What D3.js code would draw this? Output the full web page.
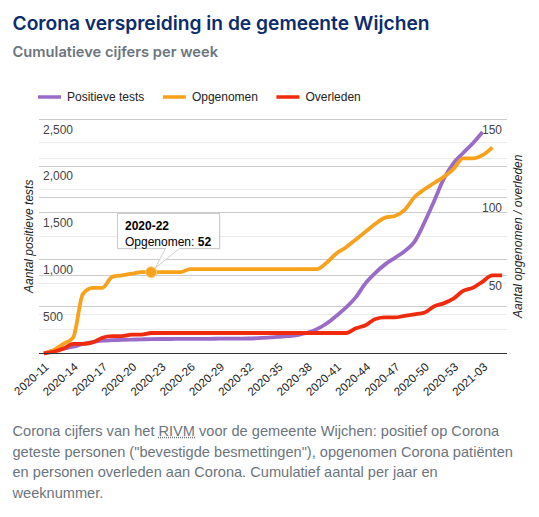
<!DOCTYPE html>
<html>
<head>
<meta charset="utf-8">
<script src="https://cdn.jsdelivr.net/npm/d3@7"></script>
<style>
  html, body { margin: 0; padding: 0; background: #fff; }
  #wrap { position: relative; width: 539px; height: 517px; overflow: hidden; }
  #chart { position: absolute; left: 0; top: 0; }
  #caption {
    position: absolute; left: 12.5px; top: 421px; width: 504px;
    font-family: "Liberation Sans", Arial, sans-serif; font-size: 14.6px;
    line-height: 20.7px; color: #6c757d;
  }
  #caption abbr { text-decoration: underline dotted; }
</style>
</head>
<body>
<div id="wrap">
  <svg id="chart" width="539" height="420"></svg>
  <div id="caption">Corona cijfers van het <abbr title="Rijksinstituut voor Volksgezondheid en Milieu">RIVM</abbr> voor de gemeente Wijchen: positief op Corona geteste personen ("bevestigde besmettingen"), opgenomen Corona patiënten en personen overleden aan Corona. Cumulatief aantal per jaar en weeknummer.</div>
</div>
<script>
/* ─────────── Data: weken + cumulatieve reeksen ─────────── */
const WEEKS = [
  '2020-11','2020-12','2020-13','2020-14','2020-15','2020-16','2020-17','2020-18',
  '2020-19','2020-20','2020-21','2020-22','2020-23','2020-24','2020-25','2020-26',
  '2020-27','2020-28','2020-29','2020-30','2020-31','2020-32','2020-33','2020-34',
  '2020-35','2020-36','2020-37','2020-38','2020-39','2020-40','2020-41','2020-42',
  '2020-43','2020-44','2020-45','2020-46','2020-47','2020-48','2020-49','2020-50',
  '2020-51','2020-52','2020-53','2021-01','2021-02','2021-03','2021-04','2021-05'
];

// linker as
const POSITIEF = [
  0, 30, 50, 70, 100, 120, 135, 140, 143, 146, 149, 152,
  153, 153, 154, 154, 155, 155, 156, 156, 157, 158, 162, 168,
  175, 183, 195, 220, 258, 318, 400, 490, 600, 750, 860, 950,
  1020, 1090, 1190, 1390, 1620, 1860, 2030, 2140, 2245, 2365, null, null
];

// rechter as
const OPGENOMEN = [
  0, 2, 6, 10, 38, 42, 42, 49, 50, 51, 52, 52,
  52, 52, 52, 54, 54, 54, 54, 54, 54, 54, 54, 54,
  54, 54, 54, 54, 54, 58, 64, 68, 73, 78, 83, 87,
  88, 92, 100, 105, 109, 113, 118, 125, 125, 127, 132, null
];

const OVERLEDEN = [
  0, 1, 3, 6, 6, 7, 10, 11, 11, 12, 12, 13,
  13, 13, 13, 13, 13, 13, 13, 13, 13, 13, 13, 13,
  13, 13, 13, 13, 13, 13, 13, 13, 16, 18, 22, 23,
  23, 24, 25, 26, 30, 32, 35, 40, 42, 46, 50, 50
];

const LEFT_TICKS  = [500, 1000, 1500, 2000, 2500];
const LEFT_MINOR  = [250, 750, 1250, 1750, 2250];
const RIGHT_TICKS = [50, 100, 150];
const RIGHT_MINOR = [25, 75, 125];

const SERIES = [
  { name: 'Positieve tests', values: POSITIEF,  axis: 'L', color: '#9a6cc8' },
  { name: 'Opgenomen',       values: OPGENOMEN, axis: 'R', color: '#f8a11b' },
  { name: 'Overleden',       values: OVERLEDEN, axis: 'R', color: '#f02a0c' }
];

const TIP = { week: '2020-22', series: 'Opgenomen' };

/* ─────────── Layout ─────────── */
const FONT = 'Arial, "Liberation Sans", sans-serif';
const PL = 39, PR = 507, PT = 119.3, PB = 353.3;

const svg = d3.select('#chart');

/* Titel */
svg.append('text')
  .attr('x', 12.5).attr('y', 30)
  .attr('font-family', 'Inter, "Noto Sans", sans-serif')
  .attr('font-size', 19.2).attr('font-weight', 600)
  .attr('fill', '#0b2d6b')
  .text('Corona verspreiding in de gemeente Wijchen');

svg.append('text')
  .attr('x', 12.5).attr('y', 56.5)
  .attr('font-family', 'Inter, "Noto Sans", sans-serif')
  .attr('font-size', 14.7).attr('font-weight', 600)
  .attr('fill', '#6c757d')
  .text('Cumulatieve cijfers per week');

/* Schalen */
const x = d3.scalePoint().domain(WEEKS).range([PL, PR]).padding(0.5);
const yL = d3.scaleLinear().domain([0, 2500]).range([PB, PT]);
const yR = d3.scaleLinear().domain([0, 150]).range([PB, PT]);

/* Gridlijnen */
const grid = svg.append('g').attr('shape-rendering', 'crispEdges');
function gridLines(vals, scale, color) {
  grid.append('g').selectAll('line').data(vals).join('line')
    .attr('x1', PL).attr('x2', PR)
    .attr('y1', d => scale(d)).attr('y2', d => scale(d))
    .attr('stroke', color);
}
gridLines(LEFT_MINOR, yL, '#ebebeb');
gridLines(RIGHT_MINOR, yR, '#ebebeb');
gridLines(LEFT_TICKS, yL, '#cccccc');
gridLines(RIGHT_TICKS, yR, '#cccccc');

/* As-labels */
svg.append('g').selectAll('text').data(LEFT_TICKS).join('text')
  .attr('x', 43).attr('y', d => yL(d) + 10).attr('dy', '0.35em')
  .attr('font-family', FONT).attr('font-size', 12).attr('fill', '#444')
  .text(d => d3.format(',')(d));

svg.append('g').selectAll('text').data(RIGHT_TICKS).join('text')
  .attr('x', 502).attr('y', d => yR(d) + 10).attr('dy', '0.35em')
  .attr('text-anchor', 'end')
  .attr('font-family', FONT).attr('font-size', 12).attr('fill', '#444')
  .text(d => d);

svg.append('text')
  .attr('transform', `translate(29,${(PT + PB) / 2}) rotate(-90)`)
  .attr('text-anchor', 'middle').attr('dy', '0.35em')
  .attr('font-family', FONT).attr('font-size', 12).attr('font-style', 'italic')
  .attr('fill', '#222')
  .text('Aantal positieve tests');

svg.append('text')
  .attr('transform', `translate(518,${(PT + PB) / 2}) rotate(-90)`)
  .attr('text-anchor', 'middle').attr('dy', '0.35em')
  .attr('font-family', FONT).attr('font-size', 12).attr('font-style', 'italic')
  .attr('fill', '#222')
  .text('Aantal opgenomen / overleden');

/* x-as labels (elke 3e week) */
svg.append('g').selectAll('text')
  .data(WEEKS.filter((_, i) => i % 3 === 0))
  .join('text')
    .attr('transform', d => `translate(${x(d) + 3},365) rotate(-42)`)
    .attr('text-anchor', 'end').attr('dy', '0.35em')
    .attr('font-family', FONT).attr('font-size', 11.6).attr('fill', '#222')
    .text(d => d);

/* Lijnen */
const lines = svg.append('g').attr('fill', 'none');
SERIES.forEach(s => {
  const y = s.axis === 'L' ? yL : yR;
  const line = d3.line()
    .defined(d => d != null)
    .x((_, i) => x(WEEKS[i]))
    .y(d => y(d))
    .curve(d3.curveMonotoneX);
  lines.append('path')
    .attr('d', line(s.values))
    .attr('stroke', s.color)
    .attr('stroke-width', 3.8)
    .attr('stroke-linejoin', 'round');
});

/* Basislijn */
svg.append('line')
  .attr('x1', PL).attr('x2', PR).attr('y1', PB).attr('y2', PB)
  .attr('stroke', '#333').attr('shape-rendering', 'crispEdges');

/* Legenda */
const leg = svg.append('g').attr('transform', 'translate(38,97)');
let lx = 0;
SERIES.forEach(s => {
  leg.append('line')
    .attr('x1', lx).attr('x2', lx + 23).attr('y1', 0).attr('y2', 0)
    .attr('stroke', s.color).attr('stroke-width', 3.5);
  const t = leg.append('text')
    .attr('x', lx + 29).attr('y', 0).attr('dy', '0.35em')
    .attr('font-family', FONT).attr('font-size', 12).attr('fill', '#222')
    .text(s.name);
  lx += 29 + t.node().getComputedTextLength() + 18.5;
});

/* Tooltip 2020-22 */
const ts = SERIES.find(s => s.name === TIP.series);
const ti = WEEKS.indexOf(TIP.week);
const tx = x(TIP.week), ty = yR(ts.values[ti]);

svg.append('circle')
  .attr('cx', tx).attr('cy', ty).attr('r', 5.5)
  .attr('fill', ts.color).attr('stroke', '#fbd08a').attr('stroke-width', 1);

const tip = svg.append('g');
const bx = 117.5, by = 213.5, bw = 102, bh = 35;
tip.append('rect')
  .attr('x', bx + 1).attr('y', by + 1).attr('width', bw).attr('height', bh)
  .attr('fill', '#000').attr('opacity', 0.08);
tip.append('rect')
  .attr('x', bx).attr('y', by).attr('width', bw).attr('height', bh)
  .attr('fill', '#fff').attr('stroke', '#ccc');
tip.append('path')
  .attr('d', `M${bx + 48},${by + bh} L${tx + 4},${ty - 4} L${bx + 62},${by + bh}`)
  .attr('fill', '#fff').attr('stroke', '#ccc');
tip.append('line')
  .attr('x1', bx + 48.5).attr('x2', bx + 61.5)
  .attr('y1', by + bh).attr('y2', by + bh)
  .attr('stroke', '#fff').attr('stroke-width', 1.5);

tip.append('text')
  .attr('x', bx + 7.5).attr('y', by + 16)
  .attr('font-family', FONT).attr('font-size', 12).attr('font-weight', 'bold')
  .attr('fill', '#000')
  .text(TIP.week);
const t2 = tip.append('text')
  .attr('x', bx + 7.5).attr('y', by + 32)
  .attr('font-family', FONT).attr('font-size', 12).attr('fill', '#000');
t2.append('tspan').text(`${TIP.series}: `);
t2.append('tspan').attr('font-weight', 'bold').text(ts.values[ti]);
</script>
</body>
</html>
